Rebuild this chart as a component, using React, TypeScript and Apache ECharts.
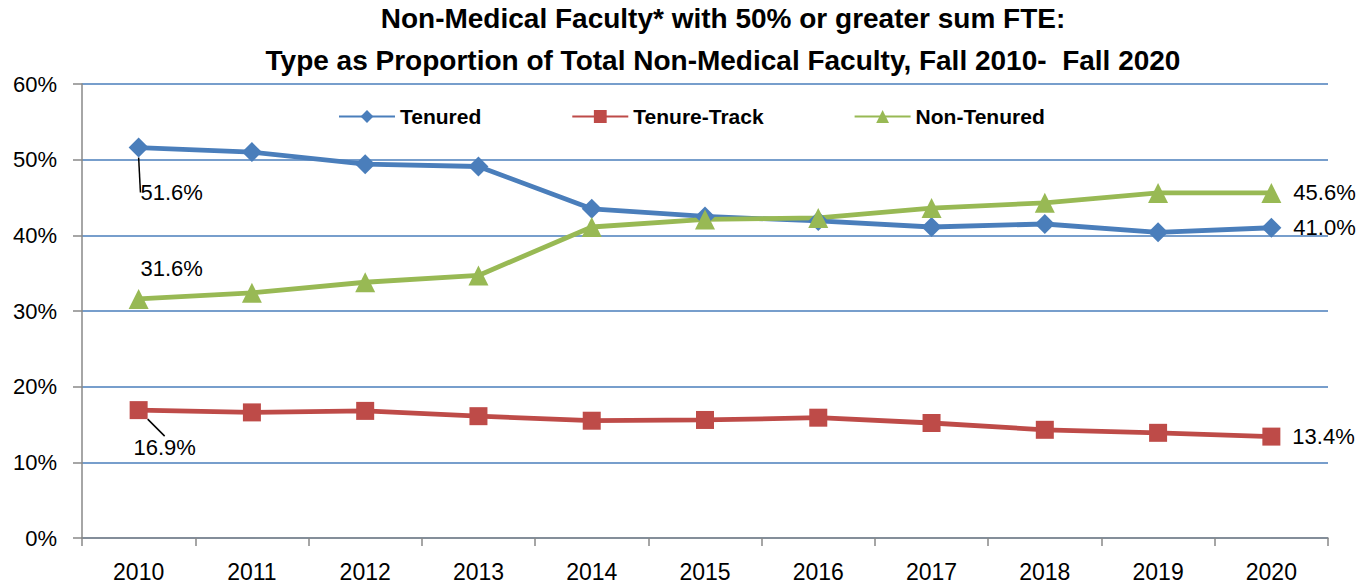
import React, { useEffect, useRef } from "react";
import * as echarts from "echarts";

const years = ["2010", "2011", "2012", "2013", "2014", "2015", "2016", "2017", "2018", "2019", "2020"];
const tenured = [51.6, 51.0, 49.4, 49.1, 43.5, 42.5, 41.9, 41.1, 41.5, 40.4, 41.0];
const tenureTrack = [16.9, 16.6, 16.8, 16.1, 15.5, 15.6, 15.9, 15.2, 14.3, 13.9, 13.4];
const nonTenured = [31.6, 32.4, 33.8, 34.7, 41.1, 42.1, 42.3, 43.6, 44.3, 45.6, 45.6];
const titleLines = [
  "Non-Medical Faculty* with 50% or greater sum FTE:",
  "Type as Proportion of Total Non-Medical Faculty, Fall 2010-  Fall 2020",
];

const FONT = "'Liberation Sans', 'DejaVu Sans', sans-serif";

function buildData(values: number[], firstPos: string, firstOffset: number[], firstLine: boolean) {
  return values.map((v, i) => {
    const item: any = { value: v };
    const last = values.length - 1;
    if (i === 0) {
      item.label = {
        show: true,
        position: firstPos,
        offset: firstOffset,
        formatter: (p: any) => p.value.toFixed(1) + "%",
      };
      if (firstLine) {
        item.labelLine = { show: true, lineStyle: { color: "#000", width: 1.5 } };
      }
    } else if (i === last) {
      item.label = {
        show: true,
        position: "right",
        distance: 12,
        formatter: (p: any) => p.value.toFixed(1) + "%",
      };
    }
    return item;
  });
}

export default function App() {
  const ref = useRef<HTMLDivElement>(null);
  useEffect(() => {
    document.body.style.margin = "0";
    const chart = echarts.init(ref.current!, null, { renderer: "svg" });
    const labelStyle = { color: "#000", fontSize: 22, fontFamily: FONT };
    const mkSeries = (
      name: string,
      values: number[],
      color: string,
      symbol: string,
      size: number,
      firstPos: string,
      firstOffset: number[],
      firstLine: boolean,
      move: number[]
    ) => ({
      name,
      type: "line",
      data: buildData(values, firstPos, firstOffset, firstLine),
      symbol,
      symbolSize: size,
      itemStyle: { color },
      lineStyle: { color, width: 4.8 },
      label: { show: false, ...labelStyle },
      labelLayout: firstLine
        ? (p: any) => (p.dataIndex === 0 ? { dx: move[0], dy: move[1] } : {})
        : undefined,
    });
    chart.setOption({
      animation: false,
      title: {
        text: titleLines.join("\n"),
        left: 718,
        top: -8,
        textAlign: "center",
        textStyle: { fontFamily: FONT, fontWeight: "bold", fontSize: 28, lineHeight: 42, color: "#000" },
      },
      legend: {
        top: 101,
        left: 333,
        itemGap: 90,
        itemWidth: 56,
        itemHeight: 16,
        textStyle: { fontFamily: FONT, fontWeight: "bold", fontSize: 21, color: "#000" },
        data: ["Tenured", "Tenure-Track", "Non-Tenured"],
      },
      grid: { left: 82, right: 40, top: 84, bottom: 46 },
      xAxis: {
        type: "category",
        data: years,
        boundaryGap: true,
        axisLine: { lineStyle: { color: "#888", width: 1.5 } },
        axisTick: { show: true, length: 8, lineStyle: { color: "#888", width: 1.5 } },
        axisLabel: { color: "#000", fontSize: 23, fontFamily: FONT, margin: 22 },
      },
      yAxis: {
        type: "value",
        min: 0,
        max: 60,
        interval: 10,
        axisLine: { show: true, lineStyle: { color: "#888", width: 1.5 } },
        axisTick: { show: true, inside: false, length: 9, lineStyle: { color: "#888", width: 1.5 } },
        axisLabel: { color: "#000", fontSize: 22, fontFamily: FONT, margin: 25, formatter: "{value}%" },
        splitLine: { lineStyle: { color: "#4A7EBB", width: 1.5 } },
      },
      series: [
        mkSeries("Tenured", tenured, "#4A7EBB", "diamond", 20, "bottom", [0, 0], true, [33, 19]),
        mkSeries("Tenure-Track", tenureTrack, "#BE4B48", "rect", 18, "bottom", [0, 0], true, [26, 12]),
        mkSeries("Non-Tenured", nonTenured, "#98B954", "triangle", 20, "top", [33, -4], false, [0, 0]),
      ],
    });
    return () => chart.dispose();
  }, []);
  return <div ref={ref} style={{ width: 1368, height: 584 }} />;
}
